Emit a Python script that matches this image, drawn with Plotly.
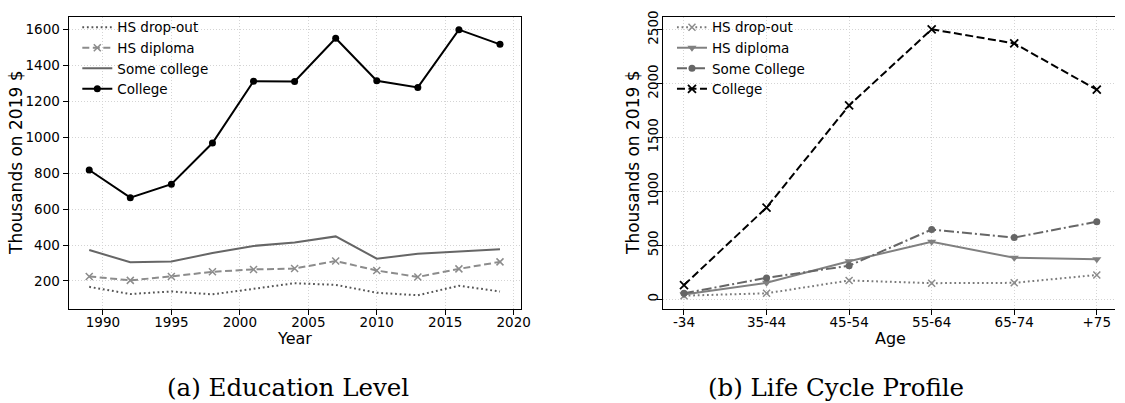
import plotly.graph_objects as go

# ---------------- data ----------------
years = [1989, 1992, 1995, 1998, 2001, 2004, 2007, 2010, 2013, 2016, 2019]
edu_dropout = [167, 127, 141, 125, 156, 187, 178, 134, 120, 173, 141]
edu_diploma = [225, 203, 225, 251, 264, 269, 311, 258, 222, 267, 306]
edu_somecol = [372, 304, 308, 355, 395, 414, 448, 324, 351, 364, 377]
edu_college = [818, 664, 739, 968, 1313, 1311, 1552, 1315, 1278, 1600, 1518]

age_groups = ["-34", "35-44", "45-54", "55-64", "65-74", "+75"]
age_dropout = [33, 55, 174, 149, 152, 225]
age_diploma = [43, 152, 353, 533, 384, 371]
age_somecol = [55, 198, 311, 646, 572, 719]
age_college = [131, 850, 1797, 2503, 2372, 1943]

left_names = ["HS drop-out", "HS diploma", "Some college", "College"]
right_names = ["HS drop-out", "HS diploma", "Some College", "College"]
left_ticks = [200, 400, 600, 800, 1000, 1200, 1400, 1600]
right_ticks = [0, 500, 1000, 1500, 2000, 2500]
year_ticks = [1990, 1995, 2000, 2005, 2010, 2015, 2020]

W, H = 1125, 403
FONT = "DejaVu Sans"

fig = go.Figure()

# ---- left panel ----
fig.add_trace(go.Scatter(x=years, y=edu_dropout, name=left_names[0], mode="lines",
                         line=dict(color="#555555", width=2, dash="1.8px,2.8px"),
                         xaxis="x", yaxis="y", legend="legend"))
fig.add_trace(go.Scatter(x=years, y=edu_diploma, name=left_names[1], mode="lines+markers",
                         line=dict(color="#8c8c8c", width=2, dash="7px,3.5px"),
                         marker=dict(symbol="x-thin", size=7, line=dict(color="#8c8c8c", width=1.5)),
                         xaxis="x", yaxis="y", legend="legend"))
fig.add_trace(go.Scatter(x=years, y=edu_somecol, name=left_names[2], mode="lines",
                         line=dict(color="#666666", width=2),
                         xaxis="x", yaxis="y", legend="legend"))
fig.add_trace(go.Scatter(x=years, y=edu_college, name=left_names[3], mode="lines+markers",
                         line=dict(color="#000000", width=2),
                         marker=dict(symbol="circle", size=7, color="#000000"),
                         xaxis="x", yaxis="y", legend="legend"))

# ---- right panel ----
fig.add_trace(go.Scatter(x=age_groups, y=age_dropout, name=right_names[0], mode="lines+markers",
                         line=dict(color="#7a7a7a", width=2, dash="1.8px,2.8px"),
                         marker=dict(symbol="x-thin", size=7, line=dict(color="#8c8c8c", width=1.5)),
                         xaxis="x2", yaxis="y2", legend="legend2"))
fig.add_trace(go.Scatter(x=age_groups, y=age_diploma, name=right_names[1], mode="lines+markers",
                         line=dict(color="#808080", width=2),
                         marker=dict(symbol="triangle-down", size=8, color="#808080"),
                         xaxis="x2", yaxis="y2", legend="legend2"))
fig.add_trace(go.Scatter(x=age_groups, y=age_somecol, name=right_names[2], mode="lines+markers",
                         line=dict(color="#666666", width=2, dash="10px,3px,2px,3px"),
                         marker=dict(symbol="circle", size=7, color="#666666"),
                         xaxis="x2", yaxis="y2", legend="legend2"))
fig.add_trace(go.Scatter(x=age_groups, y=age_college, name=right_names[3], mode="lines+markers",
                         line=dict(color="#000000", width=2, dash="8px,3.5px"),
                         marker=dict(symbol="x-thin", size=8, line=dict(color="#000000", width=1.8)),
                         xaxis="x2", yaxis="y2", legend="legend2"))

# ---- geometry (pixels -> paper) ----
def px(x):
    return x / W

def py(y):
    return (H - y) / H

L_x0, L_x1 = 69.3, 525.2
R_x0, R_x1 = 669.3, 1125.0
Y_top, Y_bot = 10.7, 307.3

axis_common = dict(
    showline=True, linecolor="black", linewidth=1.3,
    ticks="outside", ticklen=5, tickwidth=1.2, tickcolor="black",
    showgrid=True, gridcolor="#d4d4d4", griddash="1px,2px", gridwidth=1,
    zeroline=False,
    tickfont=dict(family=FONT, size=13.5, color="black"),
)

legend_common = dict(xanchor="left", yanchor="top",
                     bgcolor="rgba(0,0,0,0)", borderwidth=0,
                     font=dict(family=FONT, size=13.5, color="black"), itemwidth=30,
                     tracegroupgap=0)

fig.update_layout(
    width=W, height=H,
    margin=dict(l=0, r=0, t=0, b=0),
    paper_bgcolor="white", plot_bgcolor="white",
    font=dict(family=FONT, color="black"),
    xaxis=dict(domain=[px(L_x0), px(L_x1)], anchor="y", range=[1987.5, 2020.5],
               tickmode="array", tickvals=year_ticks, mirror=True,
               ticklabelstandoff=-4, **axis_common),
    yaxis=dict(domain=[py(Y_bot), py(Y_top)], anchor="x", range=[45, 1673],
               tickmode="array", tickvals=left_ticks, mirror=True, **axis_common),
    xaxis2=dict(domain=[px(R_x0), px(R_x1)], anchor="y2", type="category",
                range=[-0.25, -0.25 + (R_x1 - R_x0) / 83.3], mirror=True,
                ticklabelstandoff=-4, **axis_common),
    yaxis2=dict(domain=[py(Y_bot), py(Y_top)], anchor="x2", range=[-88, 2621],
                tickmode="array", tickvals=right_ticks, tickangle=-90, mirror=False,
                ticklabelstandoff=-6, **axis_common),
    legend=dict(x=px(78), y=py(6), **legend_common),
    legend2=dict(x=px(678), y=py(6), **legend_common),
    showlegend=True,
    annotations=[
        dict(text="Year", x=px((L_x0 + L_x1) / 2), y=py(338), xref="paper", yref="paper",
             showarrow=False, xanchor="center", yanchor="middle",
             font=dict(family=FONT, size=16, color="black")),
        dict(text="Age", x=px((690.7 + 1107.2) / 2), y=py(338), xref="paper", yref="paper",
             showarrow=False, xanchor="center", yanchor="middle",
             font=dict(family=FONT, size=16, color="black")),
        dict(text="Thousands on 2019 $", x=px(15.5), y=py((Y_top + Y_bot) / 2), xref="paper", yref="paper",
             showarrow=False, xanchor="center", yanchor="middle", textangle=-90,
             font=dict(family=FONT, size=17, color="black")),
        dict(text="Thousands on 2019 $", x=px(638), y=py((Y_top + Y_bot) / 2), xref="paper", yref="paper",
             showarrow=False, xanchor="center", yanchor="middle", textangle=-90,
             font=dict(family=FONT, size=17, color="black")),
        dict(text="(a) Education Level", x=px(291), y=py(387), xref="paper", yref="paper",
             showarrow=False, xanchor="center", yanchor="middle",
             font=dict(family="DejaVu Serif", size=24.5, color="black")),
        dict(text="(b) Life Cycle Profile", x=px(843), y=py(387), xref="paper", yref="paper",
             showarrow=False, xanchor="center", yanchor="middle",
             font=dict(family="DejaVu Serif", size=24.5, color="black")),
    ],
)

fig.write_html("out.html")
